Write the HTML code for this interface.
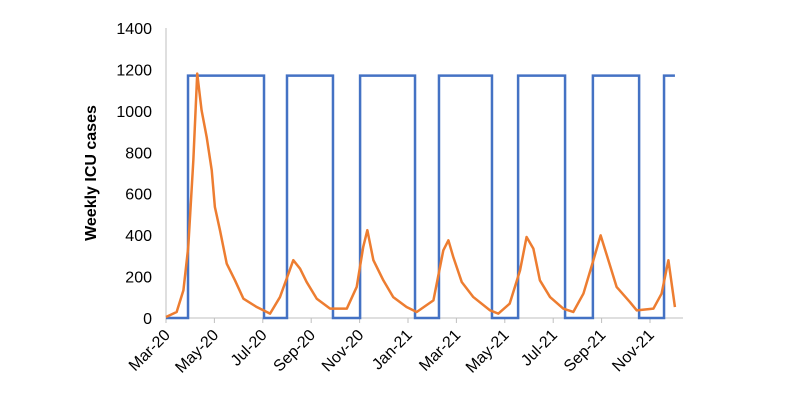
<!DOCTYPE html>
<html><head><meta charset="utf-8"><style>
html,body{margin:0;padding:0;background:#fff;}
svg{display:block;font-family:"Liberation Sans",Arial,sans-serif;}
</style></head><body>
<svg id="chart" width="800" height="417"></svg>
<script>
const yTicks=[0,200,400,600,800,1000,1200,1400];
const xLabels=["Mar-20","May-20","Jul-20","Sep-20","Nov-20","Jan-21","Mar-21","May-21","Jul-21","Sep-21","Nov-21"];
const blueMonths=[0,0.91,0.91,4.05,4.05,5.0,5.0,6.9,6.9,8.02,8.02,10.29,10.29,11.28,11.28,13.47,13.47,14.55,14.55,16.49,16.49,17.64,17.64,19.55,19.55,20.58,20.58,21.03];
const blueValues=[0,0,1170,1170,0,0,1170,1170,0,0,1170,1170,0,0,1170,1170,0,0,1170,1170,0,0,1170,1170,0,0,1170,1170];
const orangeMonths=[0,0.44,0.72,0.92,1.13,1.29,1.47,1.68,1.89,2.02,2.23,2.51,2.85,3.2,3.75,4.3,4.71,5.06,5.26,5.54,5.81,6.23,6.78,7.47,7.88,8.15,8.32,8.57,8.98,9.39,9.94,10.36,11.05,11.46,11.67,11.87,12.22,12.7,13.39,13.73,14.2,14.63,14.9,15.18,15.45,15.87,16.42,16.83,17.25,17.66,17.96,18.28,18.62,19.17,19.45,20.14,20.48,20.76,21.03];
const orangeValues=[5,29,134,343,762,1180,1003,874,713,536,424,262,182,93,53,21,101,214,279,238,174,93,45,45,150,343,424,279,182,101,53,29,85,327,375,295,174,101,37,21,69,230,391,335,182,101,45,29,118,279,399,279,150,77,37,45,118,279,53];
const svg=document.getElementById('chart');
const NS='http://www.w3.org/2000/svg';
const x0=166,mW=24.2,y0=318,yS=290/1400;
const X=m=>x0+m*mW, Y=v=>y0-v*yS;
function mk(t,a){const e=document.createElementNS(NS,t);for(const k in a)e.setAttribute(k,a[k]);svg.appendChild(e);return e;}
let e=mk('line',{x1:x0,y1:28,x2:x0,y2:y0,stroke:'#bfbfbf','stroke-width':1});


e=mk('line',{x1:x0,y1:y0,x2:683,y2:y0,stroke:'#bfbfbf','stroke-width':1});


yTicks.forEach(v=>{
 const t=mk('text',{x:152,y:Y(v)+6,'text-anchor':'end','font-size':16,fill:'#000'});t.textContent=v;
 
 
});
xLabels.forEach((l,i)=>{
 const x=X(i*2);
 const tk=mk('line',{x1:x,y1:y0,x2:x,y2:y0+5,stroke:'#bfbfbf'});
 
 
 const t=mk('text',{x:x+5,y:y0+18,'text-anchor':'end','font-size':16,fill:'#000',transform:`rotate(-45 ${x+5} ${y0+18})`});t.textContent=l;
 
 
});
const yt=mk('text',{x:96,y:173,'text-anchor':'middle','font-size':16,'font-weight':'bold',fill:'#000',transform:'rotate(-90 96 173)'});
yt.textContent='Weekly ICU cases';


const bp=mk('polyline',{points:blueMonths.map((m,i)=>X(m)+','+Y(blueValues[i])).join(' '),fill:'none',stroke:'#4472c4','stroke-width':2.5});


const op=mk('polyline',{points:orangeMonths.map((m,i)=>X(m)+','+Y(orangeValues[i])).join(' '),fill:'none',stroke:'#ed7d31','stroke-width':2.5,'stroke-linejoin':'round'});


</script>
</body></html>
